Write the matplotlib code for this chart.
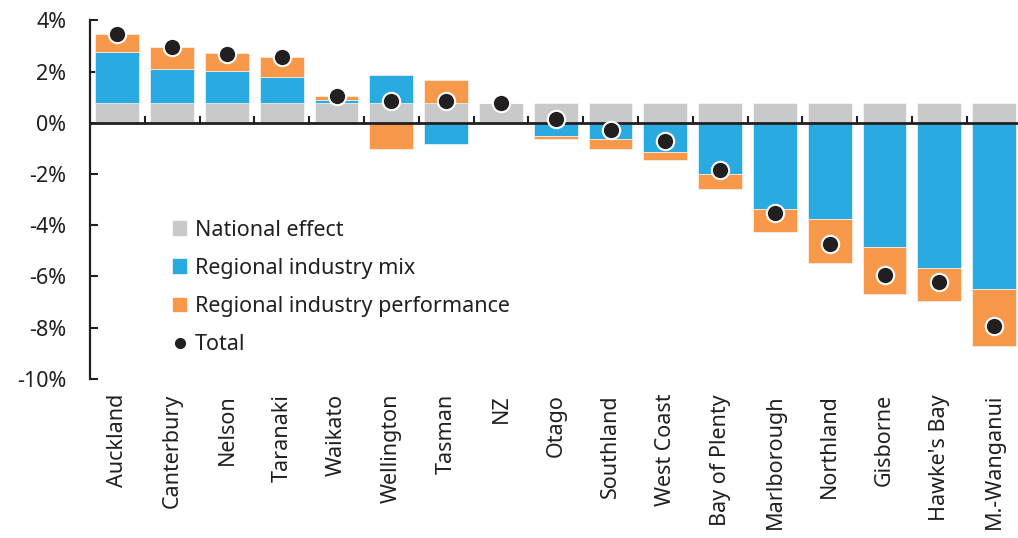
import numpy as np
import matplotlib

matplotlib.use('Agg')
from matplotlib import pyplot as plt
from matplotlib.patches import Patch
from matplotlib.lines import Line2D

plt.rcParams['font.family'] = ['Noto Sans', 'DejaVu Sans']

# Regional employment growth decomposition (%)
regions = ['Auckland', 'Canterbury', 'Nelson', 'Taranaki', 'Waikato', 'Wellington',
           'Tasman', 'NZ', 'Otago', 'Southland', 'West Coast', 'Bay of Plenty',
           'Marlborough', 'Northland', 'Gisborne', "Hawke's Bay", 'M.-Wanganui']
national = [0.76] * 17
industry_mix = [2.01, 1.33, 1.27, 1.04, 0.14, 1.09, -0.83, 0.0, -0.52, -0.64,
                -1.14, -2.00, -3.37, -3.76, -4.86, -5.66, -6.51]
industry_perf = [0.69, 0.85, 0.69, 0.77, 0.14, -1.02, 0.90, 0.0, -0.10, -0.39,
                 -0.33, -0.60, -0.90, -1.72, -1.82, -1.32, -2.20]
total = [3.45, 2.94, 2.70, 2.57, 1.05, 0.84, 0.85, 0.76, 0.14, -0.28,
         -0.71, -1.85, -3.51, -4.72, -5.93, -6.22, -7.96]

grey = '#C8C9CB'
blue = '#29ABE2'
orange = '#F7984A'
txt = '#231F20'
fs = 15.5

fig = plt.figure(figsize=(10.18, 5.38), dpi=100)
ax = fig.add_axes([90 / 1018, 1 - 378.7 / 538, 931.5 / 1018, 358.4 / 538])

x = np.arange(len(regions))
pos_base = np.zeros(len(regions))
neg_base = np.zeros(len(regions))
for vals, col in [(national, grey), (industry_mix, blue), (industry_perf, orange)]:
    vals = np.array(vals)
    bottoms = np.where(vals >= 0, pos_base, neg_base)
    ax.bar(x, vals, 0.8, bottom=bottoms, color=col, edgecolor='white', linewidth=0.4, zorder=2)
    pos_base = pos_base + np.clip(vals, 0, None)
    neg_base = neg_base + np.clip(vals, None, 0)

ax.plot(x, total, 'o', color=txt, markersize=12.5, markeredgecolor='white',
        markeredgewidth=1.5, zorder=4)

# zero line with category separators
ax.axhline(0, color=txt, linewidth=2, zorder=3)
ax.vlines(x[:-1] + 0.5, 0, 0.28, color=txt, linewidth=1.5, zorder=3)

ax.set_xlim(-0.5, 16.5)
ax.set_ylim(-10, 4)
ax.set_yticks(np.arange(-10, 5, 2))
ax.set_yticklabels([f'{v}%' for v in range(-10, 5, 2)])
ax.set_xticks(x)
ax.set_xticklabels(regions, rotation=90)

for s in ['top', 'right', 'bottom']:
    ax.spines[s].set_visible(False)
ax.spines['left'].set_linewidth(1.6)
ax.spines['left'].set_color(txt)
ax.tick_params(axis='y', direction='in', length=6, width=1.5, color=txt,
               labelsize=fs, labelcolor=txt, pad=17)
ax.tick_params(axis='x', length=0, labelsize=fs, labelcolor=txt, pad=11)

handles = [Patch(color=grey), Patch(color=blue), Patch(color=orange),
           Line2D([], [], marker='o', color=txt, linestyle='none', markersize=7)]
labels = ['National effect', 'Regional industry mix', 'Regional industry performance', 'Total']
ax.legend(handles, labels, loc='upper left', bbox_to_anchor=(0.08, 0.468), frameon=False,
          fontsize=fs, labelcolor=txt, handlelength=0.6, handleheight=0.6,
          handletextpad=0.4, labelspacing=0.8, borderaxespad=0)

fig.savefig('out.png', dpi=100)
